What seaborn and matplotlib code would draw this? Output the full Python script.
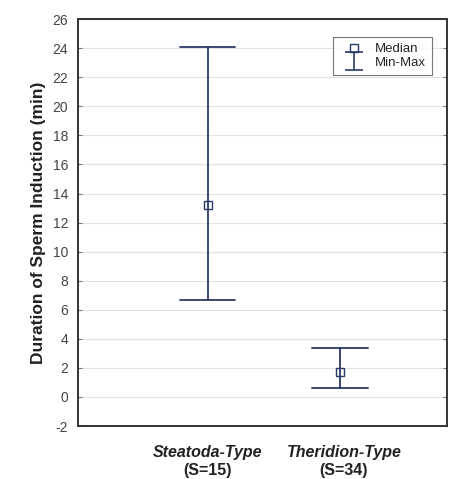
import numpy as np
import pandas as pd
import matplotlib
matplotlib.use('Agg')
import matplotlib.pyplot as plt
import matplotlib.transforms as mtransforms
from matplotlib.lines import Line2D
from matplotlib.path import Path
import seaborn as sns

# Summary values (minutes)
groups = ['Steatoda-Type', 'Theridion-Type']
sample_sizes = ['(S=15)', '(S=34)']
medians = [13.2, 1.7]
minimums = [6.7, 0.6]
maximums = [24.1, 3.4]

# long table: min / median / max per group, so median and range come back out
rows = []
for g, lo, med, hi in zip(groups, minimums, medians, maximums):
    for v in (lo, med, hi):
        rows.append({'group': g, 'duration': v})
df = pd.DataFrame(rows)

sns.set_style('white')
plt.rcParams['font.family'] = ['Liberation Sans', 'DejaVu Sans']
plt.rcParams['axes.unicode_minus'] = False

navy = '#2b3a67'

fig = plt.figure(figsize=(4.52, 4.79), dpi=100)
ax = fig.add_axes([0.1726, 0.1106, 0.8164, 0.8494])

sns.pointplot(data=df, x='group', y='duration', estimator='median',
              errorbar=lambda v: (v.min(), v.max()), capsize=0.42,
              color=navy, linestyle='none', marker='s', markersize=6,
              markerfacecolor='white', markeredgecolor=navy,
              markeredgewidth=1.0, err_kws={'linewidth': 1.3}, ax=ax)

ax.set_xlim(-0.98, 1.81)
ax.set_ylim(-2, 26)
ax.set_yticks(np.arange(-2, 27, 2))
ax.yaxis.grid(True, color='#e2e2e2', linewidth=0.8)
ax.set_axisbelow(True)

for s in ax.spines.values():
    s.set_visible(True)
    s.set_color('#333333')
    s.set_linewidth(1.4)

ax.tick_params(axis='y', direction='in', length=3, left=True, right=True,
               labelsize=10, labelcolor='#444444', color='#777777', pad=7)
ax.tick_params(axis='x', bottom=False, labelbottom=False)
ax.set_xlabel('')
ax.set_ylabel('Duration of Sperm Induction (min)', fontsize=12.5,
              fontweight='bold', color='#222222', labelpad=5)

trans = mtransforms.blended_transform_factory(ax.transData, ax.transAxes)
for i, (g, n) in enumerate(zip(groups, sample_sizes)):
    ax.text(i + 0.03 * i, -0.047, g, transform=trans, ha='center', va='top',
            fontsize=11.5, fontweight='bold', fontstyle='italic', color='#222222')
    ax.text(i + 0.03 * i, -0.092, n, transform=trans, ha='center', va='top',
            fontsize=11.5, fontweight='bold', color='#222222')

# legend with an "I"-shaped min-max glyph
cap = Path([(-1, 1), (1, 1), (0, 1), (0, -1), (-1, -1), (1, -1)],
           [Path.MOVETO, Path.LINETO, Path.MOVETO, Path.LINETO,
            Path.MOVETO, Path.LINETO])
handles = [
    Line2D([], [], linestyle='none', marker='s', markersize=6,
           markerfacecolor='white', markeredgecolor=navy),
    Line2D([], [], linestyle='none', marker=cap, markersize=13,
           markerfacecolor='none', markeredgecolor=navy, markeredgewidth=1.2),
]
leg = ax.legend(handles, ['Median', 'Min-Max'], loc='upper right',
                bbox_to_anchor=(0.959, 0.956), fontsize=9.5, frameon=True,
                fancybox=False, handlelength=2.2, handletextpad=0.5,
                labelspacing=0.1, borderpad=0.45, borderaxespad=0)
leg.get_frame().set_edgecolor('#555555')
leg.get_frame().set_linewidth(0.8)

fig.savefig('out.png', dpi=100)
